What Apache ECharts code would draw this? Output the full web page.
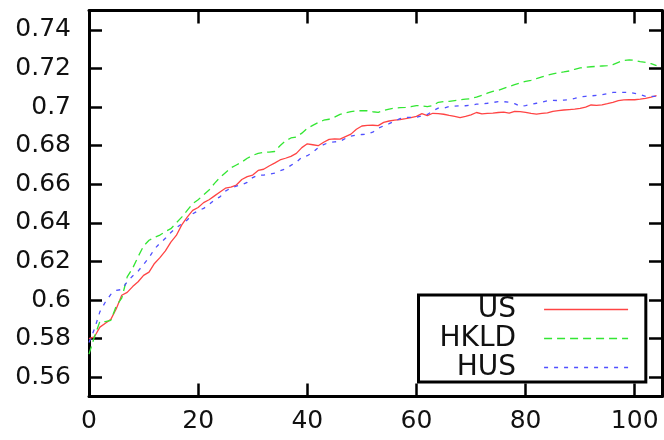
<!DOCTYPE html>
<html>
<head>
<meta charset="utf-8">
<script src="https://cdn.jsdelivr.net/npm/echarts@6/dist/echarts.min.js"></script>
<style>
html,body{margin:0;padding:0;background:#fff;}
#chart{width:664px;height:440px;}
</style>
</head>
<body>
<div id="chart"></div>
<script>
const seriesNames = ['US', 'HKLD', 'HUS'];
const xValues = [0,1,2,3,4,5,6,7,8,9,10,11,12,13,14,15,16,17,18,19,20,21,22,23,24,25,26,27,28,29,30,31,32,33,34,35,36,37,38,39,40,41,42,43,44,45,46,47,48,49,50,51,52,53,54,55,56,57,58,59,60,61,62,63,64,65,66,67,68,69,70,71,72,73,74,75,76,77,78,79,80,81,82,83,84,85,86,87,88,89,90,91,92,93,94,95,96,97,98,99,100,101,102,103,104];
const usValues = [0.580,0.581,0.586,0.588,0.590,0.5955,0.6025,0.604,0.607,0.6095,0.6128,0.6145,0.619,0.622,0.6255,0.630,0.6335,0.639,0.643,0.6465,0.648,0.6505,0.652,0.654,0.656,0.658,0.6585,0.6596,0.6625,0.664,0.6648,0.6672,0.6678,0.6695,0.671,0.6726,0.6735,0.6745,0.676,0.679,0.681,0.6805,0.680,0.6818,0.6833,0.6835,0.6834,0.6847,0.686,0.6885,0.6902,0.6905,0.6906,0.6904,0.6921,0.6928,0.6932,0.6935,0.694,0.6946,0.6952,0.6966,0.6956,0.6968,0.6966,0.6963,0.6957,0.6952,0.6946,0.6952,0.696,0.6972,0.6965,0.6967,0.6969,0.6972,0.6974,0.6969,0.6978,0.6977,0.6973,0.6967,0.6964,0.6967,0.697,0.6978,0.6982,0.6985,0.6987,0.6989,0.6993,0.700,0.7011,0.7009,0.7012,0.7018,0.7025,0.7033,0.7037,0.7038,0.7038,0.7041,0.7045,0.7052,0.706];
const hkldValues = [0.572,0.581,0.589,0.5888,0.5895,0.597,0.601,0.612,0.6165,0.6225,0.628,0.631,0.6325,0.6337,0.6355,0.637,0.640,0.643,0.6465,0.650,0.652,0.6545,0.657,0.6605,0.6635,0.666,0.6685,0.670,0.6715,0.6735,0.675,0.676,0.6765,0.6767,0.677,0.680,0.6825,0.684,0.6845,0.6865,0.689,0.6905,0.692,0.6932,0.6937,0.6948,0.6962,0.697,0.6977,0.6981,0.6981,0.6981,0.6976,0.6973,0.6982,0.699,0.6995,0.6997,0.6999,0.7002,0.7008,0.7006,0.7002,0.7008,0.7025,0.7029,0.703,0.7034,0.7038,0.7041,0.7044,0.7052,0.7061,0.7072,0.7082,0.7087,0.7097,0.7107,0.7116,0.7125,0.7133,0.7139,0.7148,0.7157,0.7165,0.7172,0.7178,0.7182,0.7187,0.7196,0.7203,0.7206,0.7209,0.7211,0.7213,0.7215,0.722,0.7232,0.7242,0.7245,0.7242,0.7236,0.7232,0.7225,0.7215];
const husValues = [0.578,0.585,0.594,0.599,0.603,0.605,0.6055,0.6095,0.6125,0.615,0.6185,0.622,0.6265,0.6295,0.632,0.635,0.6375,0.6395,0.6415,0.6447,0.6463,0.6475,0.6495,0.652,0.6535,0.6565,0.658,0.659,0.6598,0.661,0.6635,0.6648,0.6648,0.6652,0.6658,0.667,0.668,0.6698,0.6715,0.674,0.6748,0.6765,0.679,0.6806,0.6817,0.682,0.6822,0.6838,0.685,0.6855,0.6858,0.686,0.687,0.689,0.6903,0.6914,0.6928,0.694,0.6946,0.6947,0.6947,0.6955,0.6962,0.698,0.6995,0.6995,0.7003,0.7005,0.7007,0.7007,0.701,0.7015,0.7017,0.702,0.7024,0.7028,0.7028,0.7025,0.7018,0.7004,0.7008,0.7014,0.702,0.7026,0.7033,0.7035,0.7034,0.7036,0.7039,0.7045,0.7053,0.7056,0.7058,0.7061,0.7064,0.707,0.7076,0.7076,0.7076,0.7076,0.7071,0.7065,0.7055,0.7055,0.7056];
const xTicks = [0, 20, 40, 60, 80, 100];
const yTicks = [0.56, 0.58, 0.6, 0.62, 0.64, 0.66, 0.68, 0.7, 0.72, 0.74];

const FONT = 'DejaVu Sans';
function pairs(vals) { return xValues.map((x, i) => [x, vals[i]]); }

function xAxisDef(pos, showLabel) {
  return {
    type: 'value', position: pos, min: 0, max: 105,
    axisLine: { show: true, onZero: false, lineStyle: { color: '#000', width: 3 } },
    axisTick: { show: true, inside: true, length: 13, customValues: xTicks, lineStyle: { color: '#000', width: 2.5 } },
    axisLabel: { show: showLabel, customValues: xTicks, fontSize: 25, fontFamily: FONT, color: '#111', margin: 12 },
    splitLine: { show: false }
  };
}
function yAxisDef(pos, showLabel) {
  return {
    type: 'value', position: pos, min: 0.55, max: 0.75,
    axisLine: { show: true, onZero: false, lineStyle: { color: '#000', width: 3 } },
    axisTick: { show: true, inside: true, length: 13, customValues: yTicks, lineStyle: { color: '#000', width: 2.5 } },
    axisLabel: { show: showLabel, customValues: yTicks, fontSize: 25, fontFamily: FONT, color: '#111', margin: 18 },
    splitLine: { show: false }
  };
}

const chart = echarts.init(document.getElementById('chart'), null, { renderer: 'canvas' });
chart.setOption({
  animation: false,
  backgroundColor: '#fff',
  grid: { left: 89, right: 2, top: 10.6, bottom: 43.4, containLabel: false },
  xAxis: [xAxisDef('bottom', true), xAxisDef('top', false)],
  yAxis: [yAxisDef('left', true), yAxisDef('right', false)],
  legend: {
    orient: 'vertical', align: 'right', left: 418.5, top: 295,
    padding: [0, 17, 0, 21], itemGap: 0, itemWidth: 84, itemHeight: 10,
    borderColor: '#000', borderWidth: 3, backgroundColor: '#fff',
    selectedMode: false,
    itemStyle: { opacity: 0 },
    lineStyle: { width: 1.5 },
    textStyle: { fontSize: 28, fontFamily: FONT, color: '#111', lineHeight: 29, padding: [0, 23, 0, 0] },
    data: seriesNames
  },
  series: [
    { name: seriesNames[0], type: 'line', symbol: 'none', data: pairs(usValues),
      lineStyle: { color: '#ff4444', width: 1.3, type: 'solid' }, itemStyle: { color: '#ff4444' } },
    { name: seriesNames[1], type: 'line', symbol: 'none', data: pairs(hkldValues),
      lineStyle: { color: '#33e633', width: 1.3, type: [8, 5] }, itemStyle: { color: '#33e633' } },
    { name: seriesNames[2], type: 'line', symbol: 'none', data: pairs(husValues),
      lineStyle: { color: '#5050ff', width: 1.3, type: [4, 6] }, itemStyle: { color: '#5050ff' } }
  ]
});
</script>
</body>
</html>
